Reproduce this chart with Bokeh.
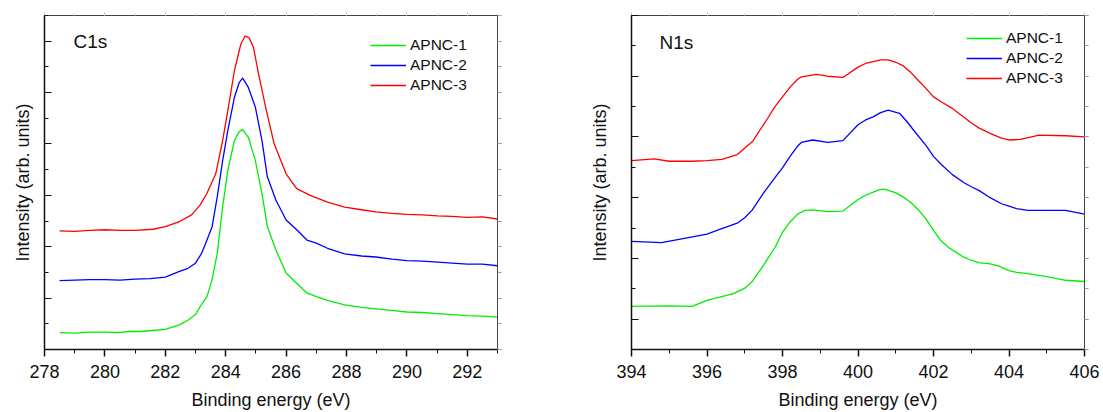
from bokeh.plotting import figure
from bokeh.layouts import row
from bokeh.models import (LinearAxis, SingleIntervalTicker, Legend, LegendItem, Label,
                          CustomJSTickFormatter)
from bokeh.embed import file_html
from bokeh.resources import INLINE

FONT = "Liberation Sans"

# ---------------- C1s data ----------------
c1s_green_x = [278.5, 279.0, 279.5, 280.0, 280.4, 280.8, 281.2, 281.56, 282.0, 282.47, 282.75, 283.0,
               283.19, 283.38, 283.55, 283.72, 283.9, 284.07, 284.29, 284.45, 284.56, 284.75, 284.98,
               285.2, 285.38, 285.66, 286.0, 286.35, 286.69, 287.0, 287.4, 287.94, 288.5, 288.97,
               289.5, 290.0, 290.5, 291.02, 291.5, 292.0, 292.5, 293.0]
c1s_green_y = [0.33, 0.32, 0.34, 0.34, 0.33, 0.35, 0.35, 0.37, 0.39, 0.48, 0.57, 0.68,
               0.87, 1.03, 1.36, 1.87, 2.78, 3.49, 4.07, 4.24, 4.28, 4.13, 3.68,
               3.04, 2.39, 1.94, 1.49, 1.29, 1.10, 1.03, 0.95, 0.87, 0.82, 0.79,
               0.76, 0.73, 0.72, 0.70, 0.68, 0.66, 0.65, 0.63]

c1s_blue_x = [278.5, 279.0, 279.5, 280.0, 280.5, 281.0, 281.5, 282.0, 282.47, 282.75, 283.0,
              283.2, 283.38, 283.55, 283.72, 283.9, 284.07, 284.29, 284.45, 284.56, 284.75, 284.98,
              285.2, 285.38, 285.66, 286.0, 286.35, 286.69, 287.0, 287.37, 287.94, 288.5, 288.97,
              289.5, 290.0, 290.5, 291.02, 291.5, 292.0, 292.5, 293.0]
c1s_blue_y = [1.34, 1.35, 1.36, 1.36, 1.35, 1.37, 1.38, 1.41, 1.52, 1.58, 1.68,
              1.87, 2.13, 2.39, 2.97, 3.68, 4.26, 4.91, 5.2, 5.28, 5.10, 4.72,
              4.07, 3.36, 2.91, 2.52, 2.33, 2.13, 2.07, 1.97, 1.86, 1.82, 1.80,
              1.76, 1.73, 1.72, 1.70, 1.68, 1.66, 1.66, 1.63]

c1s_red_x = [278.5, 279.0, 279.5, 280.0, 280.5, 281.0, 281.6, 282.0, 282.47, 282.87, 283.15,
             283.38, 283.67, 283.9, 284.07, 284.29, 284.5, 284.64, 284.77, 284.92, 285.09,
             285.32, 285.6, 286.0, 286.35, 286.8, 287.37, 287.94, 288.5, 288.97, 289.5,
             290.0, 290.5, 291.02, 291.5, 292.0, 292.5, 293.0]
c1s_red_y = [2.31, 2.30, 2.32, 2.33, 2.32, 2.32, 2.34, 2.39, 2.49, 2.62, 2.81,
             3.04, 3.42, 4.07, 4.65, 5.43, 5.94, 6.10, 6.07, 5.88, 5.36,
             4.72, 4.01, 3.42, 3.13, 3.00, 2.87, 2.77, 2.72, 2.68, 2.65,
             2.63, 2.62, 2.60, 2.59, 2.57, 2.58, 2.54]

# ---------------- N1s data ----------------
n1s_green_x = [394.0, 395.0, 395.6, 396.0, 396.7, 397.0, 397.2, 397.5, 397.8, 398.0, 398.2, 398.4,
               398.6, 398.8, 399.2, 399.6, 400.0, 400.2, 400.4, 400.55, 400.7, 401.0, 401.2, 401.4,
               401.6, 401.8, 402.0, 402.2, 402.4, 402.6, 402.8, 403.0, 403.2, 403.5, 403.7, 404.0,
               404.2, 404.5, 405.0, 405.5, 406.0]
n1s_green_y = [1.21, 1.22, 1.21, 1.31, 1.42, 1.51, 1.62, 1.89, 2.18, 2.43, 2.60, 2.73,
               2.79, 2.80, 2.77, 2.78, 2.97, 3.04, 3.09, 3.13, 3.14, 3.08, 3.01, 2.92,
               2.80, 2.65, 2.46, 2.29, 2.18, 2.10, 2.02, 1.97, 1.93, 1.91, 1.88, 1.80,
               1.77, 1.75, 1.70, 1.64, 1.62]

n1s_blue_x = [394.0, 394.8, 395.4, 396.0, 396.3, 396.8, 397.0, 397.2, 397.5, 397.8, 398.0, 398.2,
              398.4, 398.5, 398.8, 399.2, 399.6, 400.0, 400.2, 400.4, 400.6, 400.8, 401.1, 401.3,
              401.5, 401.8, 402.0, 402.2, 402.5, 402.8, 403.0, 403.2, 403.5, 403.8, 404.0, 404.2,
              404.5, 405.0, 405.5, 406.0]
n1s_blue_y = [2.28, 2.26, 2.33, 2.40, 2.47, 2.58, 2.67, 2.80, 3.08, 3.33, 3.49, 3.68,
              3.85, 3.91, 3.95, 3.91, 3.94, 4.20, 4.28, 4.33, 4.40, 4.44, 4.39, 4.25,
              4.09, 3.86, 3.68, 3.55, 3.38, 3.25, 3.18, 3.12, 3.00, 2.90, 2.86, 2.82,
              2.79, 2.79, 2.79, 2.73]

n1s_red_x = [394.0, 394.6, 395.0, 395.6, 396.0, 396.4, 396.8, 397.2, 397.6, 397.8, 398.0, 398.2,
             398.4, 398.5, 398.9, 399.2, 399.6, 400.0, 400.2, 400.4, 400.6, 400.8, 401.0, 401.2,
             401.4, 401.6, 401.8, 402.0, 402.2, 402.5, 402.8, 403.0, 403.2, 403.5, 403.8, 404.0,
             404.3, 404.8, 405.5, 406.0]
n1s_red_y = [3.61, 3.64, 3.60, 3.60, 3.61, 3.63, 3.71, 3.92, 4.30, 4.50, 4.66, 4.82,
             4.95, 4.99, 5.03, 5.00, 4.98, 5.15, 5.21, 5.24, 5.27, 5.27, 5.23, 5.17,
             5.06, 4.93, 4.80, 4.66, 4.58, 4.47, 4.33, 4.23, 4.15, 4.06, 3.98, 3.95,
             3.96, 4.03, 4.02, 4.00]

series_labels = ["APNC-1", "APNC-2", "APNC-3"]
series_colors = ["#00ee00", "#0000ff", "#ff0000"]

x_label = "Binding energy (eV)"
y_label = "Intensity (arb. units)"

BLANK = "return ''"


def make_fig(width, xr, yr, x_int, borders, y_std):
    bl, br, bt, bb = borders
    p = figure(width=width, height=412, x_range=xr, y_range=yr,
               output_backend="svg", toolbar_location=None,
               min_border_left=bl, min_border_right=br,
               min_border_top=bt, min_border_bottom=bb)
    p.xgrid.visible = False
    p.ygrid.visible = False
    p.outline_line_color = "#333333"
    p.outline_line_width = 1
    p.background_fill_color = "white"
    p.border_fill_color = "white"

    xt = SingleIntervalTicker(interval=x_int, num_minor_ticks=2)
    yt = SingleIntervalTicker(interval=1, num_minor_ticks=2)

    xa = p.xaxis[0]
    xa.ticker = xt
    xa.axis_label = x_label
    xa.axis_label_text_font = FONT
    xa.axis_label_text_font_style = "normal"
    xa.axis_label_text_font_size = "18px"
    xa.axis_label_text_color = "#111111"
    xa.axis_label_standoff = 9
    xa.major_label_text_font = FONT
    xa.major_label_text_font_size = "18px"
    xa.major_label_text_color = "#111111"
    xa.major_label_standoff = 8
    xa.major_tick_in = 0
    xa.major_tick_out = 7
    xa.minor_tick_in = 0
    xa.minor_tick_out = 4
    xa.axis_line_color = "#111111"
    xa.axis_line_width = 1.5
    xa.major_tick_line_color = "#111111"
    xa.minor_tick_line_color = "#111111"
    xa.major_tick_line_width = 1.5

    ya = p.yaxis[0]
    ya.ticker = yt
    ya.formatter = CustomJSTickFormatter(code=BLANK)
    ya.axis_label = y_label
    ya.axis_label_text_font = FONT
    ya.axis_label_text_font_style = "normal"
    ya.axis_label_text_font_size = "18px"
    ya.axis_label_text_color = "#111111"
    ya.axis_label_standoff = y_std
    ya.major_label_standoff = 0
    ya.major_tick_in = 7
    ya.major_tick_out = 0
    ya.minor_tick_in = 4
    ya.minor_tick_out = 0
    ya.axis_line_color = "#111111"
    ya.axis_line_width = 1.5
    ya.major_tick_line_color = "#111111"
    ya.minor_tick_line_color = "#111111"

    top = LinearAxis(ticker=xt, formatter=CustomJSTickFormatter(code=BLANK),
                     major_label_text_font_size="8px", major_label_standoff=0,
                     major_tick_in=0, major_tick_out=3, minor_tick_in=0, minor_tick_out=2,
                     axis_line_color="#444444", major_tick_line_color="#bbbbbb",
                     minor_tick_line_color="#cccccc")
    p.add_layout(top, "above")
    right = LinearAxis(ticker=yt, formatter=CustomJSTickFormatter(code=BLANK),
                       major_label_text_font_size="8px", major_label_standoff=0,
                       major_tick_in=0, major_tick_out=4, minor_tick_in=0, minor_tick_out=4,
                       axis_line_color="#444444", major_tick_line_color="#999999",
                       minor_tick_line_color="#999999")
    p.add_layout(right, "right")
    return p


def add_series(p, xs, ys, legend_loc, title, title_pos):
    items = []
    for x, y, lab, col in zip(xs, ys, series_labels, series_colors):
        r = p.line(x, y, line_color=col, line_width=1.3, line_join="round")
        items.append(LegendItem(label=lab, renderers=[r]))
    leg = Legend(items=items, location=legend_loc, border_line_color=None,
                 background_fill_alpha=0, glyph_width=36, glyph_height=16,
                 label_standoff=4, label_text_font=FONT, label_text_font_size="15.5px",
                 label_text_color="#111111", padding=5, spacing=2, margin=0,
                 label_height=16)
    p.add_layout(leg)
    p.add_layout(Label(x=title_pos[0], y=title_pos[1], x_units="screen", y_units="screen",
                       text=title, text_font=FONT, text_font_size="19px",
                       text_color="#111111", text_baseline="middle"))


p1 = make_fig(560, (278, 293), (0, 6.5), 2, (44, 63, 15, 62), 12)
add_series(p1, [c1s_green_x, c1s_blue_x, c1s_red_x], [c1s_green_y, c1s_blue_y, c1s_red_y],
           (326, 255), "C1s", (29, 308))

p2 = make_fig(543, (394, 406), (0.5, 6.0), 2, (71, 19, 14, 59), 22)
add_series(p2, [n1s_green_x, n1s_blue_x, n1s_red_x], [n1s_green_y, n1s_blue_y, n1s_red_y],
           (335, 262), "N1s", (28, 307))

layout = row(p1, p2)
open("out.html", "w").write(file_html(layout, INLINE))
